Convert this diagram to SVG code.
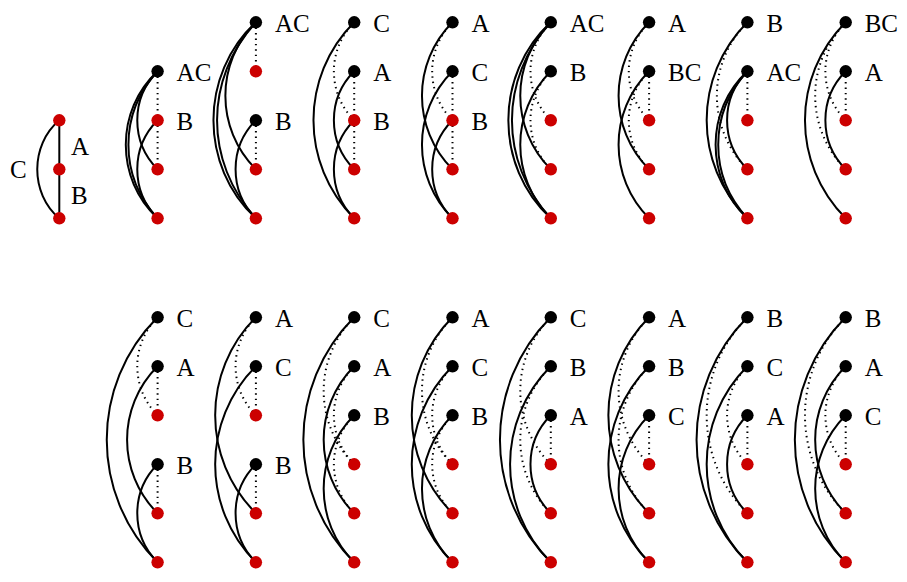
<svg xmlns="http://www.w3.org/2000/svg" width="907" height="582" viewBox="0 0 907 582">
<style>
.s{fill:none;stroke:#000;stroke-width:2}
.d{fill:none;stroke:#000;stroke-width:2;stroke-dasharray:1.4 4}
.k{fill:#000}
.r{fill:#cc0000}
text{font-family:"Liberation Serif","Times New Roman",serif;font-size:25px;fill:#000}
</style>
<rect width="907" height="582" fill="#fff"/>
<g id="connectors">
 <g transform="translate(59.3 0)">
  <path class="s" d="M0,120.3V169.3"/>
  <path class="s" d="M0,169.3V218.3"/>
  <path class="s" d="M0,120.3C-29.4,145 -29.4,193.6 0,218.3"/>
 </g>
 <g transform="translate(157.6 0)">
  <path class="d" d="M0,71.3V120.3"/>
  <path class="d" d="M0,120.3V169.3"/>
  <path class="s" d="M0,71.3C-27.1,98.4 -27.1,142.2 0,169.3"/>
  <path class="s" d="M0,71.3C-42.4,110.2 -42.4,179.4 0,218.3"/>
  <path class="s" d="M0,71.3C-38.9,113.7 -38.9,175.9 0,218.3"/>
  <path class="s" d="M0,120.3C-27.1,147.4 -27.1,191.2 0,218.3"/>
 </g>
 <g transform="translate(255.9 0)">
  <path class="d" d="M0,22.3V71.3"/>
  <path class="s" d="M0,22.3C-40.7,63 -40.7,128.6 0,169.3"/>
  <path class="s" d="M0,22.3C-56.6,74.2 -56.6,166.4 0,218.3"/>
  <path class="s" d="M0,22.3C-51.8,78.9 -51.8,161.7 0,218.3"/>
  <path class="s" d="M0,120.3C-27.1,147.4 -27.1,191.2 0,218.3"/>
  <path class="d" d="M0,120.3V169.3"/>
 </g>
 <g transform="translate(354.2 0)">
  <path class="s" d="M0,22.3C-54.3,76.6 -54.3,164 0,218.3"/>
  <path class="d" d="M0,22.3C-27.1,49.4 -27.1,93.2 0,120.3"/>
  <path class="s" d="M0,71.3C-27.1,98.4 -27.1,142.2 0,169.3"/>
  <path class="d" d="M0,71.3V120.3"/>
  <path class="d" d="M0,120.3V169.3"/>
  <path class="s" d="M0,120.3C-27.1,147.4 -27.1,191.2 0,218.3"/>
 </g>
 <g transform="translate(452.5 0)">
  <path class="s" d="M0,22.3C-40.7,63 -40.7,128.6 0,169.3"/>
  <path class="d" d="M0,22.3C-27.1,49.4 -27.1,93.2 0,120.3"/>
  <path class="s" d="M0,71.3C-40.7,112 -40.7,177.6 0,218.3"/>
  <path class="d" d="M0,71.3V120.3"/>
  <path class="d" d="M0,120.3V169.3"/>
  <path class="s" d="M0,120.3C-27.1,147.4 -27.1,191.2 0,218.3"/>
 </g>
 <g transform="translate(550.8 0)">
  <path class="d" d="M0,22.3C-27.1,49.4 -27.1,93.2 0,120.3"/>
  <path class="s" d="M0,22.3C-40.7,63 -40.7,128.6 0,169.3"/>
  <path class="s" d="M0,22.3C-56.6,74.2 -56.6,166.4 0,218.3"/>
  <path class="s" d="M0,22.3C-51.8,78.9 -51.8,161.7 0,218.3"/>
  <path class="d" d="M0,71.3C-27.1,98.4 -27.1,142.2 0,169.3"/>
  <path class="s" d="M0,71.3C-40.7,112 -40.7,177.6 0,218.3"/>
 </g>
 <g transform="translate(649.1 0)">
  <path class="d" d="M0,22.3C-27.1,49.4 -27.1,93.2 0,120.3"/>
  <path class="s" d="M0,22.3C-40.7,63 -40.7,128.6 0,169.3"/>
  <path class="d" d="M0,71.3V120.3"/>
  <path class="d" d="M0,71.3C-27.1,98.4 -27.1,142.2 0,169.3"/>
  <path class="s" d="M0,71.3C-40.7,112 -40.7,177.6 0,218.3"/>
 </g>
 <g transform="translate(747.4 0)">
  <path class="d" d="M0,22.3C-40.7,63 -40.7,128.6 0,169.3"/>
  <path class="s" d="M0,22.3C-54.3,76.6 -54.3,164 0,218.3"/>
  <path class="d" d="M0,71.3V120.3"/>
  <path class="s" d="M0,71.3C-27.1,98.4 -27.1,142.2 0,169.3"/>
  <path class="s" d="M0,71.3C-42.4,110.2 -42.4,179.4 0,218.3"/>
  <path class="s" d="M0,71.3C-38.9,113.7 -38.9,175.9 0,218.3"/>
 </g>
 <g transform="translate(845.7 0)">
  <path class="d" d="M0,22.3C-27.1,49.4 -27.1,93.2 0,120.3"/>
  <path class="d" d="M0,22.3C-40.7,63 -40.7,128.6 0,169.3"/>
  <path class="s" d="M0,22.3C-54.3,76.6 -54.3,164 0,218.3"/>
  <path class="d" d="M0,71.3V120.3"/>
  <path class="s" d="M0,71.3C-27.1,98.4 -27.1,142.2 0,169.3"/>
 </g>
 <g transform="translate(157.6 0)">
  <path class="s" d="M0,317.3C-67.8,385.1 -67.8,494.5 0,562.3"/>
  <path class="d" d="M0,317.3C-27.1,344.4 -27.1,388.2 0,415.3"/>
  <path class="s" d="M0,366.3C-40.7,407 -40.7,472.6 0,513.3"/>
  <path class="d" d="M0,366.3V415.3"/>
  <path class="s" d="M0,464.3C-27.1,491.4 -27.1,535.2 0,562.3"/>
  <path class="d" d="M0,464.3V513.3"/>
 </g>
 <g transform="translate(255.9 0)">
  <path class="s" d="M0,317.3C-54.3,371.6 -54.3,459 0,513.3"/>
  <path class="d" d="M0,317.3C-27.1,344.4 -27.1,388.2 0,415.3"/>
  <path class="s" d="M0,366.3C-54.3,420.6 -54.3,508 0,562.3"/>
  <path class="d" d="M0,366.3V415.3"/>
  <path class="s" d="M0,464.3C-27.1,491.4 -27.1,535.2 0,562.3"/>
  <path class="d" d="M0,464.3V513.3"/>
 </g>
 <g transform="translate(354.2 0)">
  <path class="s" d="M0,317.3C-67.8,385.1 -67.8,494.5 0,562.3"/>
  <path class="d" d="M0,317.3C-40.7,358 -40.7,423.6 0,464.3"/>
  <path class="s" d="M0,366.3C-40.7,407 -40.7,472.6 0,513.3"/>
  <path class="d" d="M0,366.3C-27.1,393.4 -27.1,437.2 0,464.3"/>
  <path class="s" d="M0,415.3C-40.7,456 -40.7,521.6 0,562.3"/>
  <path class="d" d="M0,415.3C-27.1,442.4 -27.1,486.2 0,513.3"/>
 </g>
 <g transform="translate(452.5 0)">
  <path class="s" d="M0,317.3C-54.3,371.6 -54.3,459 0,513.3"/>
  <path class="d" d="M0,317.3C-40.7,358 -40.7,423.6 0,464.3"/>
  <path class="s" d="M0,366.3C-54.3,420.6 -54.3,508 0,562.3"/>
  <path class="d" d="M0,366.3C-27.1,393.4 -27.1,437.2 0,464.3"/>
  <path class="s" d="M0,415.3C-40.7,456 -40.7,521.6 0,562.3"/>
  <path class="d" d="M0,415.3C-27.1,442.4 -27.1,486.2 0,513.3"/>
 </g>
 <g transform="translate(550.8 0)">
  <path class="s" d="M0,317.3C-67.8,385.1 -67.8,494.5 0,562.3"/>
  <path class="d" d="M0,317.3C-40.7,358 -40.7,423.6 0,464.3"/>
  <path class="s" d="M0,366.3C-54.3,420.6 -54.3,508 0,562.3"/>
  <path class="d" d="M0,366.3C-40.7,407 -40.7,472.6 0,513.3"/>
  <path class="s" d="M0,415.3C-27.1,442.4 -27.1,486.2 0,513.3"/>
  <path class="d" d="M0,415.3V464.3"/>
 </g>
 <g transform="translate(649.1 0)">
  <path class="s" d="M0,317.3C-54.3,371.6 -54.3,459 0,513.3"/>
  <path class="d" d="M0,317.3C-40.7,358 -40.7,423.6 0,464.3"/>
  <path class="s" d="M0,366.3C-54.3,420.6 -54.3,508 0,562.3"/>
  <path class="d" d="M0,366.3C-40.7,407 -40.7,472.6 0,513.3"/>
  <path class="s" d="M0,415.3C-40.7,456 -40.7,521.6 0,562.3"/>
  <path class="d" d="M0,415.3V464.3"/>
 </g>
 <g transform="translate(747.4 0)">
  <path class="s" d="M0,317.3C-67.8,385.1 -67.8,494.5 0,562.3"/>
  <path class="d" d="M0,317.3C-54.3,371.6 -54.3,459 0,513.3"/>
  <path class="s" d="M0,366.3C-54.3,420.6 -54.3,508 0,562.3"/>
  <path class="d" d="M0,366.3C-27.1,393.4 -27.1,437.2 0,464.3"/>
  <path class="s" d="M0,415.3C-27.1,442.4 -27.1,486.2 0,513.3"/>
  <path class="d" d="M0,415.3V464.3"/>
 </g>
 <g transform="translate(845.7 0)">
  <path class="s" d="M0,317.3C-67.8,385.1 -67.8,494.5 0,562.3"/>
  <path class="d" d="M0,317.3C-54.3,371.6 -54.3,459 0,513.3"/>
  <path class="s" d="M0,366.3C-40.7,407 -40.7,472.6 0,513.3"/>
  <path class="d" d="M0,366.3C-27.1,393.4 -27.1,437.2 0,464.3"/>
  <path class="s" d="M0,415.3C-40.7,456 -40.7,521.6 0,562.3"/>
  <path class="d" d="M0,415.3V464.3"/>
 </g>
</g>
<g id="labels-col1">
 <text x="71" y="155">A</text>
 <text x="71" y="204">B</text>
 <text x="10" y="178">C</text>
</g>
<g id="t1-2"><circle class="r" cx="59.3" cy="120.3" r="6.2"/></g>
<g id="t1-3"><circle class="r" cx="59.3" cy="169.3" r="6.2"/></g>
<g id="t1-4"><circle class="r" cx="59.3" cy="218.3" r="6.2"/></g>

<g id="t2-1"><circle class="k" cx="157.6" cy="71.3" r="6.2"/><text x="176.6" y="81">AC</text></g>
<g id="t2-2"><circle class="r" cx="157.6" cy="120.3" r="6.2"/><text x="176.6" y="130">B</text></g>
<g id="t2-3"><circle class="r" cx="157.6" cy="169.3" r="6.2"/></g>
<g id="t2-4"><circle class="r" cx="157.6" cy="218.3" r="6.2"/></g>

<g id="t3-0"><circle class="k" cx="255.9" cy="22.3" r="6.2"/><text x="274.9" y="32">AC</text></g>
<g id="t3-1"><circle class="r" cx="255.9" cy="71.3" r="6.2"/></g>
<g id="t3-2"><circle class="k" cx="255.9" cy="120.3" r="6.2"/><text x="274.9" y="130">B</text></g>
<g id="t3-3"><circle class="r" cx="255.9" cy="169.3" r="6.2"/></g>
<g id="t3-4"><circle class="r" cx="255.9" cy="218.3" r="6.2"/></g>

<g id="t4-0"><circle class="k" cx="354.2" cy="22.3" r="6.2"/><text x="373.2" y="32">C</text></g>
<g id="t4-1"><circle class="k" cx="354.2" cy="71.3" r="6.2"/><text x="373.2" y="81">A</text></g>
<g id="t4-2"><circle class="r" cx="354.2" cy="120.3" r="6.2"/><text x="373.2" y="130">B</text></g>
<g id="t4-3"><circle class="r" cx="354.2" cy="169.3" r="6.2"/></g>
<g id="t4-4"><circle class="r" cx="354.2" cy="218.3" r="6.2"/></g>

<g id="t5-0"><circle class="k" cx="452.5" cy="22.3" r="6.2"/><text x="471.5" y="32">A</text></g>
<g id="t5-1"><circle class="k" cx="452.5" cy="71.3" r="6.2"/><text x="471.5" y="81">C</text></g>
<g id="t5-2"><circle class="r" cx="452.5" cy="120.3" r="6.2"/><text x="471.5" y="130">B</text></g>
<g id="t5-3"><circle class="r" cx="452.5" cy="169.3" r="6.2"/></g>
<g id="t5-4"><circle class="r" cx="452.5" cy="218.3" r="6.2"/></g>

<g id="t6-0"><circle class="k" cx="550.8" cy="22.3" r="6.2"/><text x="569.8" y="32">AC</text></g>
<g id="t6-1"><circle class="k" cx="550.8" cy="71.3" r="6.2"/><text x="569.8" y="81">B</text></g>
<g id="t6-2"><circle class="r" cx="550.8" cy="120.3" r="6.2"/></g>
<g id="t6-3"><circle class="r" cx="550.8" cy="169.3" r="6.2"/></g>
<g id="t6-4"><circle class="r" cx="550.8" cy="218.3" r="6.2"/></g>

<g id="t7-0"><circle class="k" cx="649.1" cy="22.3" r="6.2"/><text x="668.1" y="32">A</text></g>
<g id="t7-1"><circle class="k" cx="649.1" cy="71.3" r="6.2"/><text x="668.1" y="81">BC</text></g>
<g id="t7-2"><circle class="r" cx="649.1" cy="120.3" r="6.2"/></g>
<g id="t7-3"><circle class="r" cx="649.1" cy="169.3" r="6.2"/></g>
<g id="t7-4"><circle class="r" cx="649.1" cy="218.3" r="6.2"/></g>

<g id="t8-0"><circle class="k" cx="747.4" cy="22.3" r="6.2"/><text x="766.4" y="32">B</text></g>
<g id="t8-1"><circle class="k" cx="747.4" cy="71.3" r="6.2"/><text x="766.4" y="81">AC</text></g>
<g id="t8-2"><circle class="r" cx="747.4" cy="120.3" r="6.2"/></g>
<g id="t8-3"><circle class="r" cx="747.4" cy="169.3" r="6.2"/></g>
<g id="t8-4"><circle class="r" cx="747.4" cy="218.3" r="6.2"/></g>

<g id="t9-0"><circle class="k" cx="845.7" cy="22.3" r="6.2"/><text x="864.7" y="32">BC</text></g>
<g id="t9-1"><circle class="k" cx="845.7" cy="71.3" r="6.2"/><text x="864.7" y="81">A</text></g>
<g id="t9-2"><circle class="r" cx="845.7" cy="120.3" r="6.2"/></g>
<g id="t9-3"><circle class="r" cx="845.7" cy="169.3" r="6.2"/></g>
<g id="t9-4"><circle class="r" cx="845.7" cy="218.3" r="6.2"/></g>

<g id="b1-0"><circle class="k" cx="157.6" cy="317.3" r="6.2"/><text x="176.6" y="327">C</text></g>
<g id="b1-1"><circle class="k" cx="157.6" cy="366.3" r="6.2"/><text x="176.6" y="376">A</text></g>
<g id="b1-2"><circle class="r" cx="157.6" cy="415.3" r="6.2"/></g>
<g id="b1-3"><circle class="k" cx="157.6" cy="464.3" r="6.2"/><text x="176.6" y="474">B</text></g>
<g id="b1-4"><circle class="r" cx="157.6" cy="513.3" r="6.2"/></g>
<g id="b1-5"><circle class="r" cx="157.6" cy="562.3" r="6.2"/></g>

<g id="b2-0"><circle class="k" cx="255.9" cy="317.3" r="6.2"/><text x="274.9" y="327">A</text></g>
<g id="b2-1"><circle class="k" cx="255.9" cy="366.3" r="6.2"/><text x="274.9" y="376">C</text></g>
<g id="b2-2"><circle class="r" cx="255.9" cy="415.3" r="6.2"/></g>
<g id="b2-3"><circle class="k" cx="255.9" cy="464.3" r="6.2"/><text x="274.9" y="474">B</text></g>
<g id="b2-4"><circle class="r" cx="255.9" cy="513.3" r="6.2"/></g>
<g id="b2-5"><circle class="r" cx="255.9" cy="562.3" r="6.2"/></g>

<g id="b3-0"><circle class="k" cx="354.2" cy="317.3" r="6.2"/><text x="373.2" y="327">C</text></g>
<g id="b3-1"><circle class="k" cx="354.2" cy="366.3" r="6.2"/><text x="373.2" y="376">A</text></g>
<g id="b3-2"><circle class="k" cx="354.2" cy="415.3" r="6.2"/><text x="373.2" y="425">B</text></g>
<g id="b3-3"><circle class="r" cx="354.2" cy="464.3" r="6.2"/></g>
<g id="b3-4"><circle class="r" cx="354.2" cy="513.3" r="6.2"/></g>
<g id="b3-5"><circle class="r" cx="354.2" cy="562.3" r="6.2"/></g>

<g id="b4-0"><circle class="k" cx="452.5" cy="317.3" r="6.2"/><text x="471.5" y="327">A</text></g>
<g id="b4-1"><circle class="k" cx="452.5" cy="366.3" r="6.2"/><text x="471.5" y="376">C</text></g>
<g id="b4-2"><circle class="k" cx="452.5" cy="415.3" r="6.2"/><text x="471.5" y="425">B</text></g>
<g id="b4-3"><circle class="r" cx="452.5" cy="464.3" r="6.2"/></g>
<g id="b4-4"><circle class="r" cx="452.5" cy="513.3" r="6.2"/></g>
<g id="b4-5"><circle class="r" cx="452.5" cy="562.3" r="6.2"/></g>

<g id="b5-0"><circle class="k" cx="550.8" cy="317.3" r="6.2"/><text x="569.8" y="327">C</text></g>
<g id="b5-1"><circle class="k" cx="550.8" cy="366.3" r="6.2"/><text x="569.8" y="376">B</text></g>
<g id="b5-2"><circle class="k" cx="550.8" cy="415.3" r="6.2"/><text x="569.8" y="425">A</text></g>
<g id="b5-3"><circle class="r" cx="550.8" cy="464.3" r="6.2"/></g>
<g id="b5-4"><circle class="r" cx="550.8" cy="513.3" r="6.2"/></g>
<g id="b5-5"><circle class="r" cx="550.8" cy="562.3" r="6.2"/></g>

<g id="b6-0"><circle class="k" cx="649.1" cy="317.3" r="6.2"/><text x="668.1" y="327">A</text></g>
<g id="b6-1"><circle class="k" cx="649.1" cy="366.3" r="6.2"/><text x="668.1" y="376">B</text></g>
<g id="b6-2"><circle class="k" cx="649.1" cy="415.3" r="6.2"/><text x="668.1" y="425">C</text></g>
<g id="b6-3"><circle class="r" cx="649.1" cy="464.3" r="6.2"/></g>
<g id="b6-4"><circle class="r" cx="649.1" cy="513.3" r="6.2"/></g>
<g id="b6-5"><circle class="r" cx="649.1" cy="562.3" r="6.2"/></g>

<g id="b7-0"><circle class="k" cx="747.4" cy="317.3" r="6.2"/><text x="766.4" y="327">B</text></g>
<g id="b7-1"><circle class="k" cx="747.4" cy="366.3" r="6.2"/><text x="766.4" y="376">C</text></g>
<g id="b7-2"><circle class="k" cx="747.4" cy="415.3" r="6.2"/><text x="766.4" y="425">A</text></g>
<g id="b7-3"><circle class="r" cx="747.4" cy="464.3" r="6.2"/></g>
<g id="b7-4"><circle class="r" cx="747.4" cy="513.3" r="6.2"/></g>
<g id="b7-5"><circle class="r" cx="747.4" cy="562.3" r="6.2"/></g>

<g id="b8-0"><circle class="k" cx="845.7" cy="317.3" r="6.2"/><text x="864.7" y="327">B</text></g>
<g id="b8-1"><circle class="k" cx="845.7" cy="366.3" r="6.2"/><text x="864.7" y="376">A</text></g>
<g id="b8-2"><circle class="k" cx="845.7" cy="415.3" r="6.2"/><text x="864.7" y="425">C</text></g>
<g id="b8-3"><circle class="r" cx="845.7" cy="464.3" r="6.2"/></g>
<g id="b8-4"><circle class="r" cx="845.7" cy="513.3" r="6.2"/></g>
<g id="b8-5"><circle class="r" cx="845.7" cy="562.3" r="6.2"/></g>
</svg>
